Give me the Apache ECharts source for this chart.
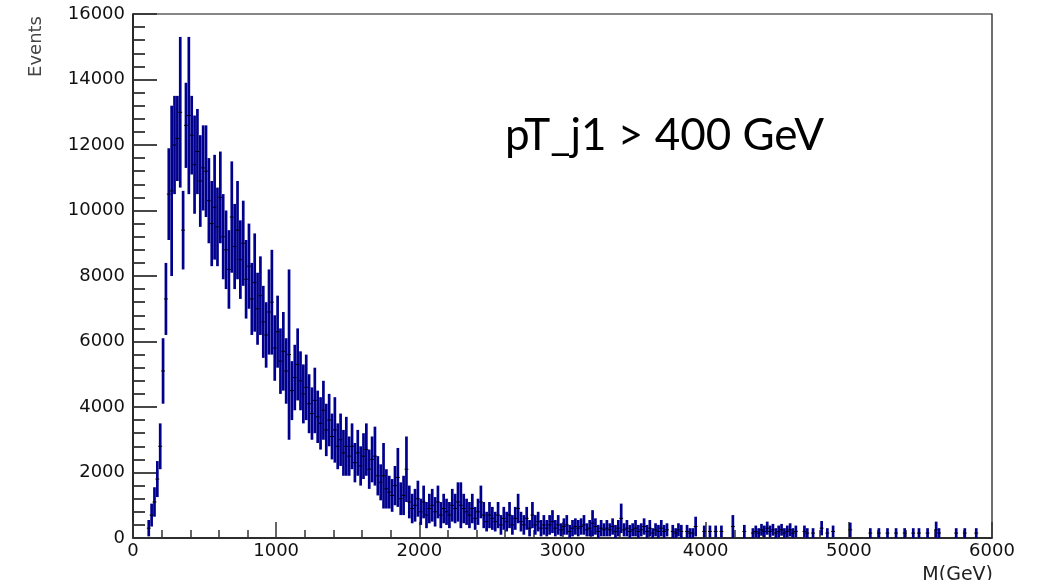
<!DOCTYPE html>
<html>
<head>
<meta charset="utf-8">
<script src="https://cdn.jsdelivr.net/npm/echarts@6/dist/echarts.min.js"></script>
<style>
html,body{margin:0;padding:0;background:#fff;}
#chart{width:1048px;height:580px;}
</style>
</head>
<body>
<div id="chart"></div>
<script>
// Histogram: bins of 20 GeV starting at 100 GeV (bin centres 110, 130, ... 5990)
var binStart = 100;
var binWidth = 20;
var counts = [
  300, 700, 1100, 1800, 2800, 5100, 7300, 10500, 10600, 12000,
  12200, 13000, 9400, 12600, 12900, 12300, 11400, 11800, 10900, 11300,
  11200, 10300, 9600, 10100, 9500, 10400, 9200, 8800, 8200, 9800,
  8900, 9400, 8500, 9000, 7900, 8300, 7300, 7800, 7000, 7400,
  6600, 6200, 6900, 7200, 5800, 6300, 5400, 5700, 5100, 5600,
  4500, 4900, 5300, 4800, 4400, 4600, 4100, 3800, 4200, 3700,
  3500, 3900, 3300, 3600, 3100, 3300, 2800, 3000, 2600, 2800,
  2500, 2800, 2300, 2600, 2200, 2500, 2700, 2100, 2400, 2500,
  1900, 1700, 1900, 1500, 1400, 1300, 1600, 1850, 1200, 1300,
  2100, 1100, 900, 1000, 1200, 800, 1100, 700, 900, 1000,
  800, 1100, 700, 900, 800, 700, 1000, 900, 1100, 1000,
  900, 800, 700, 900, 600, 800, 1100, 700, 500, 700,
  600, 500, 700, 400, 600, 500, 700, 400, 600, 900,
  500, 400, 600, 300, 700, 400, 500, 300, 400, 300,
  400, 500, 300, 400, 250, 350, 400, 200, 300, 350,
  300, 350, 400, 250, 300, 450, 350, 200, 300, 250,
  300, 250, 350, 200, 300, 600, 250, 300, 200, 250,
  300, 200, 250, 350, 200, 300, 150, 250, 200, 300,
  200, 250, 0, 200, 150, 250, 200, 0, 200, 150,
  150, 350, 0, 0, 200, 0, 200, 0, 200, 0,
  200, 0, 0, 0, 350, 0, 0, 0, 200, 0,
  0, 150, 200, 150, 250, 200, 300, 200, 250, 150,
  200, 250, 150, 200, 250, 150, 200, 0, 0, 200,
  150, 0, 150, 0, 0, 300, 0, 150, 0, 200,
  0, 0, 0, 0, 0, 250, 0, 0, 0, 0,
  0, 0, 150, 0, 0, 150, 0, 0, 150, 0,
  0, 150, 0, 0, 150, 0, 0, 150, 0, 150,
  0, 0, 150, 0, 0, 250, 150, 0, 0, 0,
  0, 0, 150, 0, 0, 150, 0, 0, 0, 150,
  0, 0, 0, 0, 0
];
var errors = [
  250, 350, 450, 550, 700, 1000, 1100, 1400, 2600, 1500,
  1300, 2300, 1200, 1300, 2400, 1200, 1500, 1300, 1400, 1300,
  1400, 1300, 1300, 1600, 1200, 1400, 1300, 1200, 1200, 1700,
  1300, 1500, 1200, 1300, 1200, 1300, 1100, 1500, 1100, 1200,
  1100, 1000, 1300, 1600, 1000, 1100, 1000, 1200, 1000, 2600,
  900, 1000, 1100, 900, 900, 1000, 900, 800, 1000, 800,
  800, 900, 800, 800, 700, 1000, 700, 800, 700, 900,
  600, 700, 600, 700, 600, 700, 800, 600, 700, 900,
  600, 550, 1000, 600, 500, 500, 600, 900, 500, 600,
  1000, 500, 450, 500, 550, 400, 500, 400, 450, 500,
  450, 500, 400, 450, 400, 400, 500, 450, 600, 700,
  450, 400, 400, 450, 350, 400, 500, 400, 300, 400,
  350, 300, 400, 300, 350, 300, 400, 300, 350, 450,
  300, 300, 350, 250, 400, 300, 300, 250, 300, 250,
  300, 350, 250, 300, 200, 250, 300, 200, 250, 250,
  250, 250, 300, 200, 250, 400, 250, 200, 250, 200,
  250, 200, 250, 200, 250, 450, 200, 250, 200, 200,
  250, 200, 200, 250, 200, 250, 150, 200, 200, 250,
  200, 200, 0, 200, 150, 200, 200, 0, 200, 150,
  150, 300, 0, 0, 180, 0, 180, 0, 180, 0,
  180, 0, 0, 0, 350, 0, 0, 0, 200, 0,
  0, 150, 180, 150, 180, 180, 200, 180, 180, 150,
  180, 180, 150, 180, 200, 150, 180, 0, 0, 180,
  150, 0, 150, 0, 0, 220, 0, 150, 0, 180,
  0, 0, 0, 0, 0, 220, 0, 0, 0, 0,
  0, 0, 150, 0, 0, 150, 0, 0, 150, 0,
  0, 150, 0, 0, 150, 0, 0, 150, 0, 150,
  0, 0, 150, 0, 0, 250, 150, 0, 0, 0,
  0, 0, 150, 0, 0, 150, 0, 0, 0, 150,
  0, 0, 0, 0, 0
];
var xTicks = [0, 1000, 2000, 3000, 4000, 5000, 6000];
var yTicks = [0, 2000, 4000, 6000, 8000, 10000, 12000, 14000, 16000];
var xTitle = 'M(GeV)';
var yTitle = 'Events';
var annotation = 'pT_j1 > 400 GeV';

var histData = [];
for (var i = 0; i < counts.length; i++) {
  if (counts[i] > 0) histData.push([binStart + binWidth * (i + 0.5), counts[i], errors[i]]);
}

var chart = echarts.init(document.getElementById('chart'), null, {renderer: 'canvas'});
var axisFont = 'DejaVu Sans';
function plain(v) { return String(v); }
chart.setOption({
  animation: false,
  backgroundColor: '#ffffff',
  grid: {left: 133, right: 56, top: 14, bottom: 42, show: true, borderColor: '#111', borderWidth: 1.2, backgroundColor: 'transparent'},
  xAxis: {
    type: 'value', min: xTicks[0], max: xTicks[xTicks.length - 1], interval: 1000,
    axisLine: {show: true, onZero: false, lineStyle: {color: '#111', width: 1.5}},
    axisTick: {show: true, inside: true, length: 16, lineStyle: {color: '#333', width: 1.5}},
    minorTick: {show: true, splitNumber: 5, length: 8, lineStyle: {color: '#333', width: 1.5}},
    splitLine: {show: false},
    axisLabel: {fontFamily: axisFont, fontSize: 18, color: '#111', margin: 4, formatter: plain}
  },
  yAxis: {
    type: 'value', min: yTicks[0], max: yTicks[yTicks.length - 1], interval: 2000,
    axisLine: {show: true, onZero: false, lineStyle: {color: '#111', width: 1.5}},
    axisTick: {show: true, inside: true, length: 24, lineStyle: {color: '#333', width: 1.8}},
    minorTick: {show: true, splitNumber: 5, length: 12, lineStyle: {color: '#333', width: 1.8}},
    splitLine: {show: false},
    axisLabel: {fontFamily: axisFont, fontSize: 18, color: '#111', margin: 8, formatter: plain}
  },
  graphic: [
    {type: 'text', x: 36.5, y: 46.5, rotation: Math.PI / 2,
     style: {text: yTitle, font: '18px "DejaVu Sans"', fill: '#444', align: 'center', verticalAlign: 'middle'}},
    {type: 'text', x: 993, y: 575,
     style: {text: xTitle, font: '19px "DejaVu Sans"', fill: '#222', align: 'right', verticalAlign: 'middle'}},
    {type: 'text', x: 505, y: 136,
     style: {text: annotation, font: '44px Lato', fill: '#000', align: 'left', verticalAlign: 'middle'}}
  ],
  series: [{
    type: 'custom',
    clip: true,
    data: histData,
    encode: {x: 0, y: 1},
    renderItem: function (params, api) {
      var x = api.value(0), v = api.value(1), e = api.value(2);
      var top = api.coord([x, v + e]);
      var bot = api.coord([x, Math.max(v - e, 0)]);
      var l = api.coord([x - binWidth / 2, v]);
      var r = api.coord([x + binWidth / 2, v]);
      return {
        type: 'group',
        children: [
          {type: 'line', shape: {x1: top[0], y1: top[1], x2: bot[0], y2: bot[1]},
           style: {stroke: '#00008c', lineWidth: 2.7}},
          {type: 'line', shape: {x1: l[0] - 0.5, y1: l[1], x2: r[0] + 0.5, y2: r[1]},
           style: {stroke: '#000000', lineWidth: 1}}
        ]
      };
    }
  }]
});
</script>
</body>
</html>
